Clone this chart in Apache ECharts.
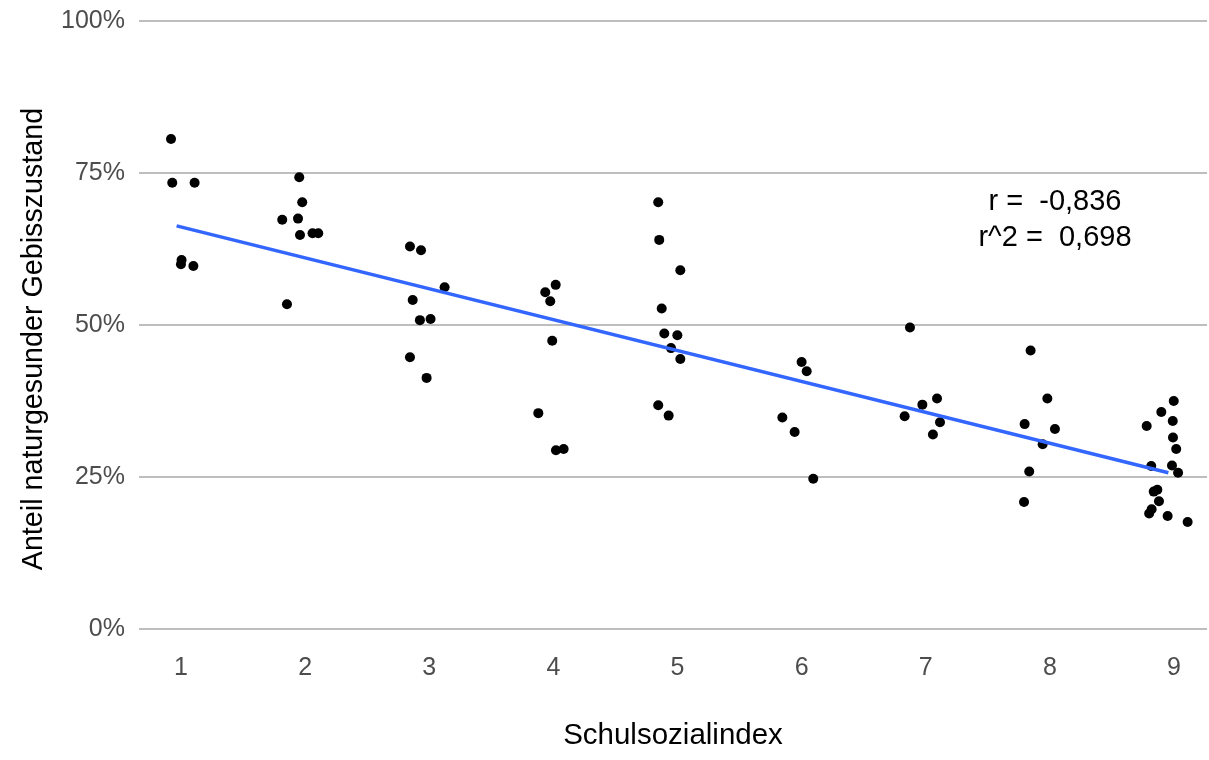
<!DOCTYPE html>
<html>
<head>
<meta charset="utf-8">
<script src="https://cdn.jsdelivr.net/npm/echarts@6/dist/echarts.min.js"></script>
<style>html,body{margin:0;padding:0;background:#fff}#c{width:1209px;height:760px}</style>
</head>
<body>
<div id="c"></div>
<script>
const xValues = [
  0.92, 0.93, 1.11, 1.005, 1.0, 1.10,
  1.953, 1.977, 1.816, 1.943, 1.959, 2.06, 2.106, 1.854,
  2.845, 2.934, 3.124, 2.867, 2.925, 3.011, 2.845, 2.979,
  4.019, 3.935, 3.975, 3.991, 3.879, 4.021, 4.083,
  4.845, 4.853, 5.023, 4.873, 4.894, 4.999, 4.948, 5.023, 4.845, 4.929,
  6.0, 6.041, 5.845, 5.944, 6.094,
  6.873, 7.091, 6.973, 6.83, 7.115, 7.058,
  7.845, 7.98, 7.797, 8.041, 7.942, 7.834, 7.792,
  8.998, 8.898, 8.99, 8.78, 8.992, 9.018, 8.817, 8.984, 9.033, 8.837, 8.866, 8.879, 8.82, 8.80, 8.949, 9.11
];
const yValues = [
  0.806, 0.734, 0.734, 0.607, 0.600, 0.597,
  0.743, 0.702, 0.673, 0.675, 0.648, 0.651, 0.651, 0.534,
  0.629, 0.623, 0.562, 0.541, 0.508, 0.510, 0.447, 0.413,
  0.566, 0.554, 0.539, 0.474, 0.355, 0.294, 0.296,
  0.702, 0.640, 0.590, 0.527, 0.486, 0.483, 0.462, 0.444, 0.368, 0.351,
  0.439, 0.424, 0.348, 0.324, 0.247,
  0.496, 0.379, 0.369, 0.350, 0.340, 0.320,
  0.458, 0.379, 0.337, 0.329, 0.304, 0.259, 0.209,
  0.375, 0.357, 0.342, 0.334, 0.315, 0.296, 0.268, 0.269, 0.257, 0.226, 0.229, 0.210, 0.197, 0.190, 0.186, 0.176
];
const trendX = [0.965, 8.955];
const trendY = [0.663, 0.257];
const xTicks = [1, 2, 3, 4, 5, 6, 7, 8, 9];
const yTicks = [0, 0.25, 0.5, 0.75, 1];
const statLines = ['r =  -0,836', 'r^2 =  0,698'];
const xTitle = 'Schulsozialindex';
const yTitle = 'Anteil naturgesunder Gebisszustand';

const FONT = 'Liberation Sans, Arial, sans-serif';
const chart = echarts.init(document.getElementById('c'), null, {renderer: 'canvas'});
chart.setOption({
  animation: false,
  backgroundColor: '#ffffff',
  grid: {left: 139, right: 2, top: 21, bottom: 131, containLabel: false},
  xAxis: {
    type: 'value', min: 0.662, max: 9.266,
    name: xTitle, nameLocation: 'middle', nameGap: 92,
    nameTextStyle: {color: '#000', fontSize: 29.5, fontFamily: FONT},
    axisLine: {show: false}, axisTick: {show: false}, splitLine: {show: false},
    axisLabel: {
      color: '#4D4D4D', fontSize: 25, fontFamily: FONT, margin: 27,
      customValues: xTicks,
      formatter: v => String(Math.round(v))
    }
  },
  yAxis: {
    type: 'value', min: 0, max: 1, interval: 0.25,
    axisLine: {show: false}, axisTick: {show: false},
    splitLine: {show: true, lineStyle: {color: '#BEBEBE', width: 2}},
    axisLabel: {
      color: '#4D4D4D', fontSize: 25, fontFamily: FONT, margin: 14,
      formatter: v => yTicks.includes(v) ? Math.round(v * 100) + '%' : ''
    }
  },
  series: [
    {
      type: 'scatter', symbol: 'circle', symbolSize: 10,
      itemStyle: {color: '#000', opacity: 1},
      data: xValues.map((x, i) => [x, yValues[i]]),
      z: 3
    },
    {
      type: 'line', symbol: 'none',
      lineStyle: {color: '#3366FF', width: 3.5},
      data: trendX.map((x, i) => [x, trendY[i]]),
      z: 4
    }
  ],
  graphic: [
    {type: 'text', x: 34, y: 339, rotation: Math.PI / 2,
     style: {text: yTitle, fill: '#000', font: '28.7px ' + FONT, textAlign: 'center', textVerticalAlign: 'middle'}},
    {type: 'text', x: 1055, y: 202,
     style: {text: statLines[0], fill: '#000', font: '29px ' + FONT, textAlign: 'center', textVerticalAlign: 'middle'}},
    {type: 'text', x: 1055, y: 238,
     style: {text: statLines[1], fill: '#000', font: '29px ' + FONT, textAlign: 'center', textVerticalAlign: 'middle'}}
  ]
});
</script>
</body>
</html>
